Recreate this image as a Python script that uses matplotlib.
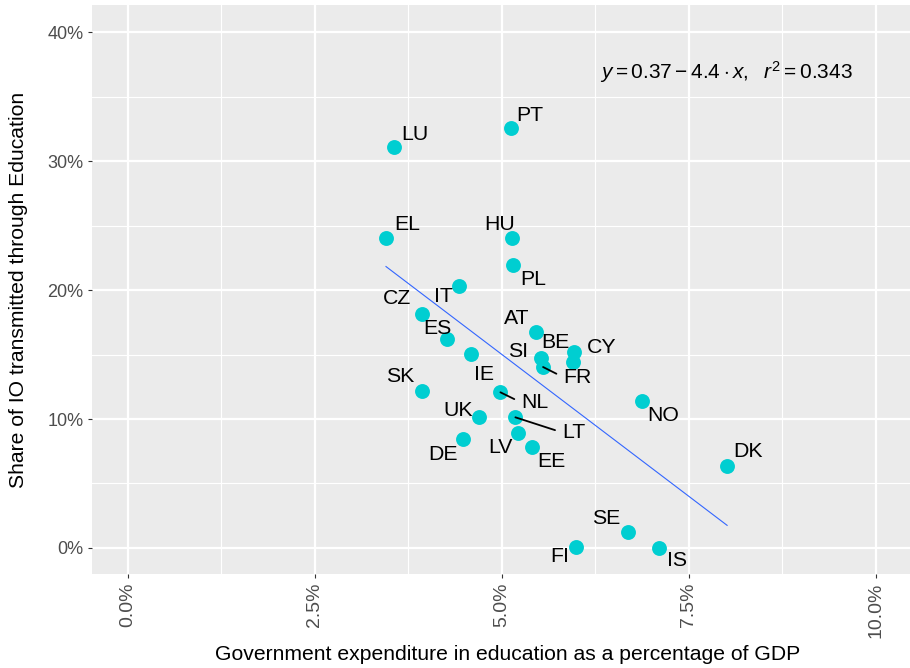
import matplotlib.pyplot as plt
from matplotlib.ticker import FixedLocator, FuncFormatter

plt.rcParams['font.family'] = 'Liberation Sans'
plt.rcParams['mathtext.fontset'] = 'custom'
plt.rcParams['mathtext.rm'] = 'Liberation Sans'
plt.rcParams['mathtext.it'] = 'Liberation Sans:italic'

# government spending on education (share of GDP) vs share of IO through education
countries = ['LU', 'PT', 'EL', 'HU', 'PL', 'IT', 'CZ', 'ES', 'AT', 'IE', 'SI', 'FR', 'BE',
             'CY', 'SK', 'NL', 'NO', 'UK', 'LT', 'LV', 'DE', 'EE', 'DK', 'SE', 'FI', 'IS']
spending = [0.0356, 0.0512, 0.0345, 0.0513, 0.0515, 0.0443, 0.0393, 0.0427, 0.0546, 0.0459,
            0.0552, 0.0555, 0.0596, 0.0595, 0.0393, 0.0498, 0.0687, 0.0469, 0.0518, 0.0522,
            0.0448, 0.0540, 0.0801, 0.0668, 0.0599, 0.0710]
io_share = [0.3106, 0.3253, 0.2405, 0.2401, 0.2194, 0.2033, 0.1811, 0.1618, 0.1677, 0.1504,
            0.1473, 0.1403, 0.1519, 0.1442, 0.1219, 0.1207, 0.1140, 0.1013, 0.1013, 0.0889,
            0.0842, 0.0785, 0.0636, 0.0122, 0.0010, 0.0002]

intercept = 0.37
slope = -4.4
r_squared = 0.343

# where each label sits relative to its point, in pixels (right, down)
nudge = {'LU': (21, -13), 'PT': (19, -13), 'EL': (21, -13), 'HU': (-12, -14), 'PL': (20, 15),
         'IT': (-16, 11), 'CZ': (-25, -16), 'ES': (-10, -11), 'AT': (-20, -13), 'IE': (13, 21),
         'SI': (-23, -6), 'FR': (34, 10), 'BE': (-18, -10), 'CY': (29, -14), 'SK': (-22, -14),
         'NL': (34, 10), 'NO': (21, 15), 'UK': (-21, -7), 'LT': (58, 15), 'LV': (-18, 14),
         'DE': (-20, 15), 'EE': (20, 15), 'DK': (21, -14), 'SE': (-21, -14), 'FI': (-16, 10),
         'IS': (18, 13)}
leader = {'FR', 'NL', 'LT'}

fig = plt.figure(figsize=(9.1, 6.68), dpi=100)
ax = fig.add_axes([92 / 910, 93.7 / 668, 818 / 910, 569.6 / 668])
ax.set_facecolor('#EBEBEB')
for s in ax.spines.values():
    s.set_visible(False)

ax.set_xlim(-0.0048, 0.10455)
ax.set_ylim(-0.0204, 0.4212)

ax.xaxis.set_major_locator(FixedLocator([0, 0.025, 0.05, 0.075, 0.1]))
ax.xaxis.set_minor_locator(FixedLocator([0.0125, 0.0375, 0.0625, 0.0875]))
ax.yaxis.set_major_locator(FixedLocator([0, 0.1, 0.2, 0.3, 0.4]))
ax.yaxis.set_minor_locator(FixedLocator([0.05, 0.15, 0.25, 0.35]))
ax.xaxis.set_major_formatter(FuncFormatter(lambda v, p: f'{v * 100:.1f}%'))
ax.yaxis.set_major_formatter(FuncFormatter(lambda v, p: f'{v * 100:.0f}%'))

ax.grid(which='major', color='white', linewidth=1.6)
ax.grid(which='minor', color='white', linewidth=0.8)
ax.set_axisbelow(True)
ax.tick_params(which='major', length=3, width=0.8, color='#333333', labelcolor='#4D4D4D',
               pad=3)
ax.tick_params(axis='x', labelsize=14)
ax.tick_params(axis='y', labelsize=13)
ax.tick_params(which='minor', length=0)
plt.setp(ax.get_xticklabels(), rotation=90, va='top', ha='center')

# fitted line across the observed range
x0, x1 = min(spending), max(spending)
ax.plot([x0, x1], [intercept + slope * x0, intercept + slope * x1],
        color='#3366FF', linewidth=0.8, zorder=2)

ax.scatter(spending, io_share, s=115, color='#00CED1', linewidths=0, zorder=3)

for c, x, y in zip(countries, spending, io_share):
    dx, dy = nudge[c]
    arrow = None
    if c in leader:
        arrow = dict(arrowstyle='-', color='black', linewidth=1.3, relpos=(0, 0.5),
                     shrinkA=3, shrinkB=0)
    ax.annotate(c, (x, y), xytext=(dx * 0.72, -dy * 0.72), textcoords='offset points',
                ha='center', va='center', fontsize=15.3, color='black',
                arrowprops=arrow, zorder=4)

ax.text(0.0631, 0.369,
        r'$y = %.2f - %.1f \cdot x,\ \ r^2 = %.3f$' % (intercept, -slope, r_squared),
        fontsize=15, ha='left', va='center', color='black')

ax.set_xlabel('Government expenditure in education as a percentage of GDP', fontsize=15.2)
ax.set_ylabel('Share of IO transmitted through Education', fontsize=15.2)
ax.xaxis.set_label_coords(0.5086, -0.124)
ax.yaxis.set_label_coords(-0.0782, 0.5)

fig.savefig('out.png', dpi=100)
